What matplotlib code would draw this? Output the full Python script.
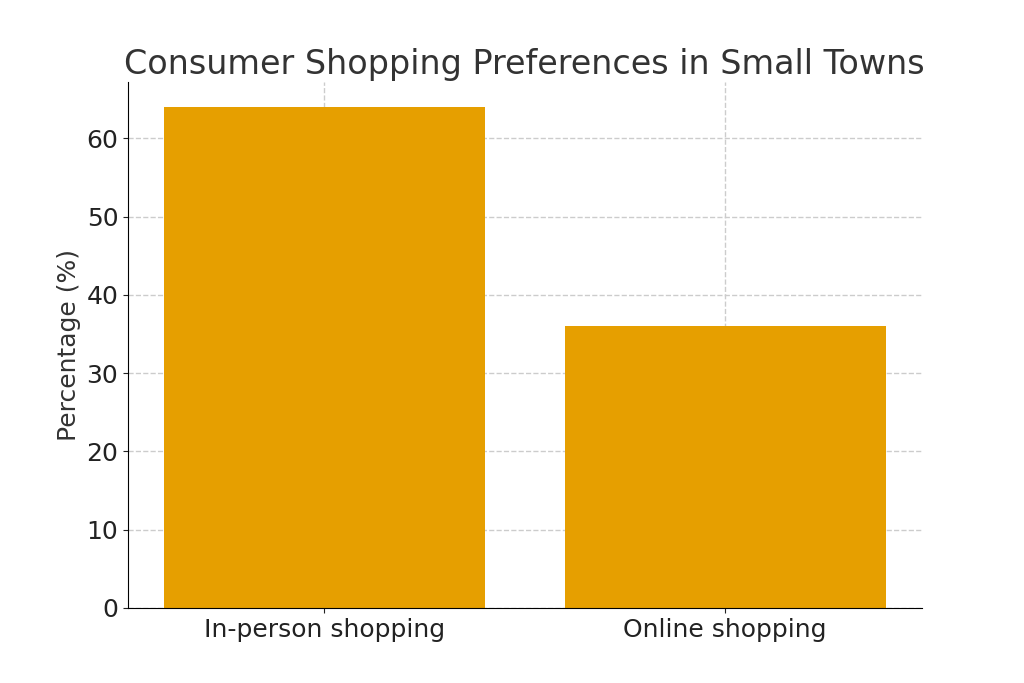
import matplotlib
matplotlib.use("Agg")
import matplotlib.pyplot as plt

categories = ["In-person shopping", "Online shopping"]
percentages = [64, 36]

plt.rcParams['font.family'] = ['DejaVu Sans']
fig, ax = plt.subplots(figsize=(10.24, 6.83), dpi=100)
ax.bar(categories, percentages, color="#E69F00", width=0.8, zorder=2)
ax.grid(True, linestyle="--", color="#cccccc", linewidth=1, zorder=0)
ax.set_title("Consumer Shopping Preferences in Small Towns", fontsize=24, color="#333333")
ax.set_ylabel("Percentage (%)", fontsize=18, color="#333333")
ax.tick_params(labelsize=18, colors="#222222")
ax.spines["top"].set_visible(False)
ax.spines["right"].set_visible(False)
ax.set_ylim(0, 67.2)
fig.subplots_adjust(left=0.125, right=0.9, top=0.88, bottom=0.11)
fig.savefig("out.png")
